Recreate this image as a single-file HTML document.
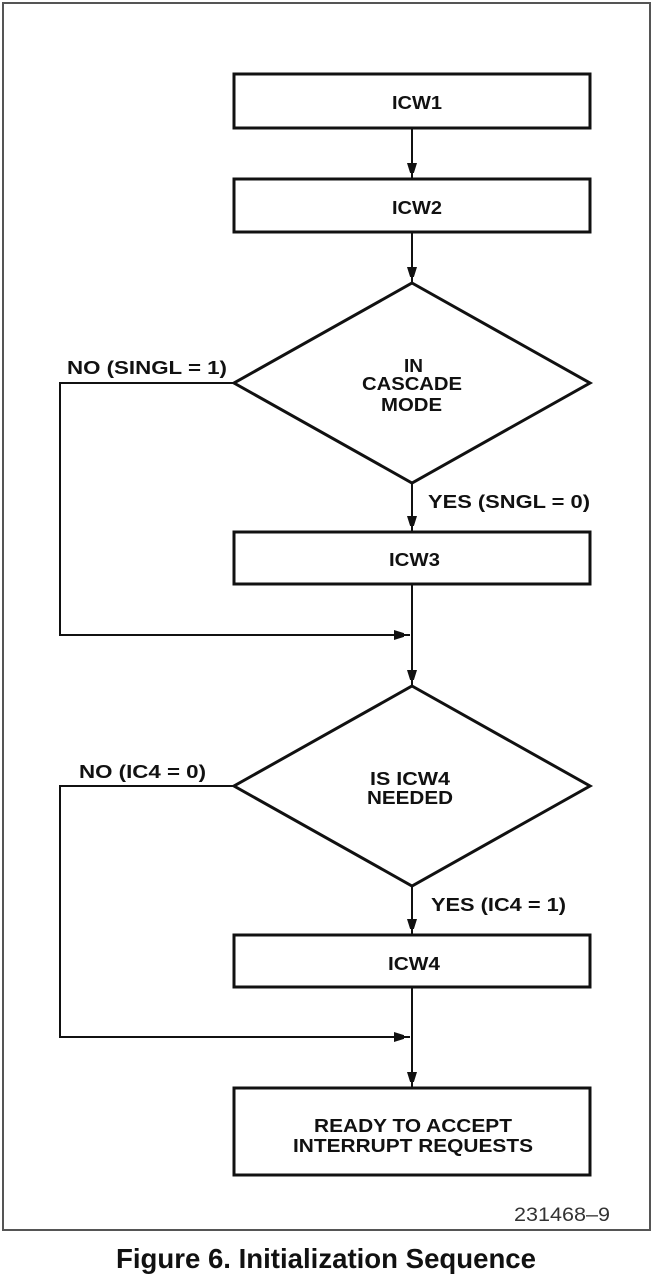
<!DOCTYPE html>
<html><head><style>
html,body{margin:0;padding:0;background:#fff;}
svg{display:block;}
text{font-family:"Liberation Sans",Arial,sans-serif;font-weight:bold;fill:#111;}
</style></head><body>
<svg width="652" height="1282" viewBox="0 0 652 1282" xmlns="http://www.w3.org/2000/svg">
<defs>
<marker id="a" markerWidth="10" markerHeight="18" refX="16" refY="5" orient="auto" markerUnits="userSpaceOnUse">
<path d="M0,0 L16,5 L0,10 Z" fill="#111"/></marker>
</defs>
<rect x="3" y="3" width="647" height="1227" fill="none" stroke="#555" stroke-width="2"/>
<g fill="none" stroke="#111" stroke-width="3">
<rect x="234" y="74" width="356" height="54"/>
<rect x="234" y="179" width="356" height="53"/>
<polygon points="412,283 590,383 412,483 234,383"/>
<rect x="234" y="532" width="356" height="52"/>
<polygon points="412,686 590,786 412,886 234,786"/>
<rect x="234" y="935" width="356" height="52"/>
<rect x="234" y="1088" width="356" height="87"/>
</g>
<g fill="none" stroke="#111" stroke-width="2">
<line x1="412" y1="128" x2="412" y2="179" marker-end="url(#a)"/>
<line x1="412" y1="232" x2="412" y2="283" marker-end="url(#a)"/>
<line x1="412" y1="483" x2="412" y2="532" marker-end="url(#a)"/>
<line x1="412" y1="584" x2="412" y2="686" marker-end="url(#a)"/>
<polyline points="234,383 60,383 60,635 410,635" marker-end="url(#a)"/>
<line x1="412" y1="886" x2="412" y2="935" marker-end="url(#a)"/>
<line x1="412" y1="987" x2="412" y2="1088" marker-end="url(#a)"/>
<polyline points="234,786 60,786 60,1037 410,1037" marker-end="url(#a)"/>
</g>
<g font-size="18">
<text x="392" y="109" textLength="50" lengthAdjust="spacingAndGlyphs">ICW1</text>
<text x="392" y="214" textLength="50" lengthAdjust="spacingAndGlyphs">ICW2</text>
<text x="404" y="372" textLength="19" lengthAdjust="spacingAndGlyphs">IN</text>
<text x="362" y="390" textLength="100" lengthAdjust="spacingAndGlyphs">CASCADE</text>
<text x="381" y="411" textLength="61" lengthAdjust="spacingAndGlyphs">MODE</text>
<text x="389" y="566" textLength="51" lengthAdjust="spacingAndGlyphs">ICW3</text>
<text x="370" y="785" textLength="80" lengthAdjust="spacingAndGlyphs">IS ICW4</text>
<text x="367" y="804" textLength="86" lengthAdjust="spacingAndGlyphs">NEEDED</text>
<text x="388" y="970" textLength="52" lengthAdjust="spacingAndGlyphs">ICW4</text>
<text x="314" y="1132" textLength="198" lengthAdjust="spacingAndGlyphs">READY TO ACCEPT</text>
<text x="293" y="1152" textLength="240" lengthAdjust="spacingAndGlyphs">INTERRUPT REQUESTS</text>
<text x="67" y="374" textLength="160" lengthAdjust="spacingAndGlyphs">NO (SINGL = 1)</text>
<text x="428" y="508" textLength="162" lengthAdjust="spacingAndGlyphs">YES (SNGL = 0)</text>
<text x="79" y="778" textLength="127" lengthAdjust="spacingAndGlyphs">NO (IC4 = 0)</text>
<text x="431" y="911" textLength="135" lengthAdjust="spacingAndGlyphs">YES (IC4 = 1)</text>
</g>
<text x="514" y="1221" font-size="19" textLength="96" lengthAdjust="spacingAndGlyphs" style="font-weight:normal;fill:#333">231468–9</text>
<text x="116" y="1268" font-size="28" textLength="420" lengthAdjust="spacingAndGlyphs">Figure 6. Initialization Sequence</text>
</svg>
</body></html>
